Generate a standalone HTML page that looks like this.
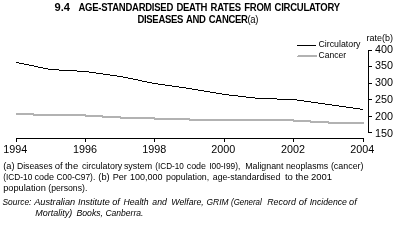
<!DOCTYPE html>
<html><head><meta charset="utf-8"><style>
html,body{margin:0;padding:0;background:#fff;width:397px;height:227px;overflow:hidden}
svg{position:absolute;left:0;top:0;display:block;will-change:transform}
text{font-family:"Liberation Sans",sans-serif;fill:#000;white-space:pre}
.b{font-weight:bold}
.n{font-weight:normal}
.i{font-style:italic}
</style></head><body>
<svg width="397" height="227" viewBox="0 0 397 227">
<g shape-rendering="crispEdges">
<rect x="16" y="138" width="348" height="1" fill="#000"/><rect x="16" y="138" width="1" height="4" fill="#000"/><rect x="85" y="138" width="1" height="4" fill="#000"/><rect x="154" y="138" width="1" height="4" fill="#000"/><rect x="224" y="138" width="1" height="4" fill="#000"/><rect x="293" y="138" width="1" height="4" fill="#000"/><rect x="363" y="138" width="1" height="4" fill="#000"/><rect x="368" y="50" width="1" height="83" fill="#000"/><rect x="368" y="50" width="4" height="1" fill="#000"/><rect x="368" y="66" width="4" height="1" fill="#000"/><rect x="368" y="83" width="4" height="1" fill="#000"/><rect x="368" y="99" width="4" height="1" fill="#000"/><rect x="368" y="116" width="4" height="1" fill="#000"/><rect x="368" y="132" width="4" height="1" fill="#000"/><rect x="297" y="45" width="19" height="1" fill="#000"/><rect x="298" y="55" width="19" height="1" fill="#b2b2b2"/><rect x="297" y="56" width="20" height="1" fill="#b2b2b2"/>
<rect x="16" y="62" width="3" height="1" fill="#000"/><rect x="19" y="63" width="5" height="1" fill="#000"/><rect x="24" y="64" width="5" height="1" fill="#000"/><rect x="29" y="65" width="5" height="1" fill="#000"/><rect x="34" y="66" width="4" height="1" fill="#000"/><rect x="38" y="67" width="5" height="1" fill="#000"/><rect x="43" y="68" width="5" height="1" fill="#000"/><rect x="48" y="69" width="11" height="1" fill="#000"/><rect x="59" y="70" width="18" height="1" fill="#000"/><rect x="77" y="71" width="12" height="1" fill="#000"/><rect x="89" y="72" width="7" height="1" fill="#000"/><rect x="96" y="73" width="7" height="1" fill="#000"/><rect x="103" y="74" width="7" height="1" fill="#000"/><rect x="110" y="75" width="7" height="1" fill="#000"/><rect x="117" y="76" width="6" height="1" fill="#000"/><rect x="123" y="77" width="5" height="1" fill="#000"/><rect x="128" y="78" width="5" height="1" fill="#000"/><rect x="133" y="79" width="5" height="1" fill="#000"/><rect x="138" y="80" width="4" height="1" fill="#000"/><rect x="142" y="81" width="5" height="1" fill="#000"/><rect x="147" y="82" width="5" height="1" fill="#000"/><rect x="152" y="83" width="6" height="1" fill="#000"/><rect x="158" y="84" width="7" height="1" fill="#000"/><rect x="165" y="85" width="7" height="1" fill="#000"/><rect x="172" y="86" width="7" height="1" fill="#000"/><rect x="179" y="87" width="7" height="1" fill="#000"/><rect x="186" y="88" width="6" height="1" fill="#000"/><rect x="192" y="89" width="6" height="1" fill="#000"/><rect x="198" y="90" width="6" height="1" fill="#000"/><rect x="204" y="91" width="6" height="1" fill="#000"/><rect x="210" y="92" width="6" height="1" fill="#000"/><rect x="216" y="93" width="6" height="1" fill="#000"/><rect x="222" y="94" width="7" height="1" fill="#000"/><rect x="229" y="95" width="9" height="1" fill="#000"/><rect x="238" y="96" width="8" height="1" fill="#000"/><rect x="246" y="97" width="9" height="1" fill="#000"/><rect x="255" y="98" width="22" height="1" fill="#000"/><rect x="277" y="99" width="20" height="1" fill="#000"/><rect x="297" y="100" width="7" height="1" fill="#000"/><rect x="304" y="101" width="7" height="1" fill="#000"/><rect x="311" y="102" width="7" height="1" fill="#000"/><rect x="318" y="103" width="7" height="1" fill="#000"/><rect x="325" y="104" width="7" height="1" fill="#000"/><rect x="332" y="105" width="7" height="1" fill="#000"/><rect x="339" y="106" width="7" height="1" fill="#000"/><rect x="346" y="107" width="7" height="1" fill="#000"/><rect x="353" y="108" width="7" height="1" fill="#000"/><rect x="360" y="109" width="3" height="1" fill="#000"/><rect x="16" y="113" width="18" height="1" fill="#b2b2b2"/><rect x="16" y="114" width="17" height="1" fill="#b2b2b2"/><rect x="33" y="114" width="53" height="1" fill="#b2b2b2"/><rect x="33" y="115" width="52" height="1" fill="#b2b2b2"/><rect x="85" y="115" width="18" height="1" fill="#b2b2b2"/><rect x="85" y="116" width="17" height="1" fill="#b2b2b2"/><rect x="102" y="116" width="19" height="1" fill="#b2b2b2"/><rect x="102" y="117" width="18" height="1" fill="#b2b2b2"/><rect x="120" y="117" width="35" height="1" fill="#b2b2b2"/><rect x="120" y="118" width="34" height="1" fill="#b2b2b2"/><rect x="154" y="118" width="36" height="1" fill="#b2b2b2"/><rect x="154" y="119" width="35" height="1" fill="#b2b2b2"/><rect x="189" y="119" width="105" height="1" fill="#b2b2b2"/><rect x="189" y="120" width="104" height="1" fill="#b2b2b2"/><rect x="293" y="120" width="18" height="1" fill="#b2b2b2"/><rect x="293" y="121" width="17" height="1" fill="#b2b2b2"/><rect x="310" y="121" width="19" height="1" fill="#b2b2b2"/><rect x="310" y="122" width="18" height="1" fill="#b2b2b2"/><rect x="328" y="122" width="36" height="1" fill="#b2b2b2"/><rect x="328" y="123" width="36" height="1" fill="#b2b2b2"/>
</g>
<text class="b tt" x="54.5" y="11.2" font-size="11.6" textLength="15.5" lengthAdjust="spacingAndGlyphs">9.4</text><text class="b tt" transform="scale(0.82,1)" x="95.73" y="11.2" font-size="11.6" word-spacing="1.2" textLength="318.90" lengthAdjust="spacing">AGE-STANDARDISED DEATH RATES FROM CIRCULATORY</text><text class="b tt" transform="scale(0.82,1)" x="167.68" y="22.8" font-size="11.6" word-spacing="1.2" textLength="147.56" lengthAdjust="spacing">DISEASES AND CANCER<tspan class="n">(a)</tspan></text><text class="n" x="318.5" y="46.8" font-size="9.5" textLength="42" lengthAdjust="spacingAndGlyphs">Circulatory</text><text class="n" x="318.5" y="57.8" font-size="9.5" textLength="27.5" lengthAdjust="spacingAndGlyphs">Cancer</text><text class="n" x="366.5" y="40.8" font-size="9.5" textLength="26.5" lengthAdjust="spacingAndGlyphs">rate(b)</text><text class="n d" x="375" y="53" font-size="11" textLength="18" lengthAdjust="spacingAndGlyphs">400</text><text class="n d" x="375" y="69" font-size="11" textLength="18" lengthAdjust="spacingAndGlyphs">350</text><text class="n d" x="375" y="86" font-size="11" textLength="18" lengthAdjust="spacingAndGlyphs">300</text><text class="n d" x="375" y="103" font-size="11" textLength="18" lengthAdjust="spacingAndGlyphs">250</text><text class="n d" x="375" y="120" font-size="11" textLength="18" lengthAdjust="spacingAndGlyphs">200</text><text class="n d" x="375" y="137" font-size="11" textLength="18" lengthAdjust="spacingAndGlyphs">150</text><text class="n d" x="3.3" y="153" font-size="11" textLength="24" lengthAdjust="spacingAndGlyphs">1994</text><text class="n d" x="73.1" y="153" font-size="11" textLength="24" lengthAdjust="spacingAndGlyphs">1996</text><text class="n d" x="142.3" y="153" font-size="11" textLength="24" lengthAdjust="spacingAndGlyphs">1998</text><text class="n d" x="211.3" y="153" font-size="11" textLength="24" lengthAdjust="spacingAndGlyphs">2000</text><text class="n d" x="281.1" y="153" font-size="11" textLength="24" lengthAdjust="spacingAndGlyphs">2002</text><text class="n d" x="350.3" y="153" font-size="11" textLength="24" lengthAdjust="spacingAndGlyphs">2004</text><text class="n ft" x="3.20" y="168.8" font-size="9.5" textLength="11.34" lengthAdjust="spacingAndGlyphs">(a)</text><text class="n ft" x="16.89" y="168.8" font-size="9.5" textLength="35.70" lengthAdjust="spacingAndGlyphs">Diseases</text><text class="n ft" x="54.82" y="168.8" font-size="9.5" textLength="7.94" lengthAdjust="spacingAndGlyphs">of</text><text class="n ft" x="64.96" y="168.8" font-size="9.5" textLength="13.22" lengthAdjust="spacingAndGlyphs">the</text><text class="n ft" x="81.88" y="168.8" font-size="9.5" textLength="40.44" lengthAdjust="spacingAndGlyphs">circulatory</text><text class="n ft" x="123.89" y="168.8" font-size="9.5" textLength="28.21" lengthAdjust="spacingAndGlyphs">system</text><text class="n ft" x="155.37" y="168.8" font-size="9.5" textLength="28.52" lengthAdjust="spacingAndGlyphs">(ICD-10</text><text class="n ft" x="186.67" y="168.8" font-size="9.5" textLength="19.41" lengthAdjust="spacingAndGlyphs">code</text><text class="n ft" x="209.24" y="168.8" font-size="9.5" textLength="31.07" lengthAdjust="spacingAndGlyphs">I00-I99),</text><text class="n ft" x="245.17" y="168.8" font-size="9.5" textLength="38.32" lengthAdjust="spacingAndGlyphs">Malignant</text><text class="n ft" x="285.89" y="168.8" font-size="9.5" textLength="42.39" lengthAdjust="spacingAndGlyphs">neoplasms</text><text class="n ft" x="330.92" y="168.8" font-size="9.5" textLength="32.61" lengthAdjust="spacingAndGlyphs">(cancer)</text><text class="n ft" x="3.26" y="180.2" font-size="9.5" textLength="29.01" lengthAdjust="spacingAndGlyphs">(ICD-10</text><text class="n ft" x="34.48" y="180.2" font-size="9.5" textLength="19.58" lengthAdjust="spacingAndGlyphs">code</text><text class="n ft" x="56.53" y="180.2" font-size="9.5" textLength="38.71" lengthAdjust="spacingAndGlyphs">C00-C97).</text><text class="n ft" x="98.30" y="180.2" font-size="9.5" textLength="11.41" lengthAdjust="spacingAndGlyphs">(b)</text><text class="n ft" x="112.65" y="180.2" font-size="9.5" textLength="14.20" lengthAdjust="spacingAndGlyphs">Per</text><text class="n ft" x="129.94" y="180.2" font-size="9.5" textLength="32.58" lengthAdjust="spacingAndGlyphs">100,000</text><text class="n ft" x="166.01" y="180.2" font-size="9.5" textLength="43.21" lengthAdjust="spacingAndGlyphs">population,</text><text class="n ft" x="212.77" y="180.2" font-size="9.5" textLength="67.58" lengthAdjust="spacingAndGlyphs">age-standardised</text><text class="n ft" x="284.92" y="180.2" font-size="9.5" textLength="23.77" lengthAdjust="spacingAndGlyphs">to the</text><text class="n ft" x="311.00" y="180.2" font-size="9.5" textLength="21.13" lengthAdjust="spacingAndGlyphs">2001</text><text class="n ft" x="3.18" y="191.1" font-size="9.5" textLength="42.68" lengthAdjust="spacingAndGlyphs">population</text><text class="n ft" x="48.24" y="191.1" font-size="9.5" textLength="39.07" lengthAdjust="spacingAndGlyphs">(persons).</text><text class="i ft" x="2.54" y="204.8" font-size="9.5" textLength="28.83" lengthAdjust="spacingAndGlyphs">Source:</text><text class="i ft" x="34.15" y="204.8" font-size="9.5" textLength="41.00" lengthAdjust="spacingAndGlyphs">Australian</text><text class="i ft" x="77.92" y="204.8" font-size="9.5" textLength="31.82" lengthAdjust="spacingAndGlyphs">Institute</text><text class="i ft" x="112.22" y="204.8" font-size="9.5" textLength="7.64" lengthAdjust="spacingAndGlyphs">of</text><text class="i ft" x="123.52" y="204.8" font-size="9.5" textLength="25.10" lengthAdjust="spacingAndGlyphs">Health</text><text class="i ft" x="152.33" y="204.8" font-size="9.5" textLength="14.55" lengthAdjust="spacingAndGlyphs">and</text><text class="i ft" x="171.28" y="204.8" font-size="9.5" textLength="32.46" lengthAdjust="spacingAndGlyphs">Welfare,</text><text class="i ft" x="206.54" y="204.8" font-size="9.5" textLength="21.98" lengthAdjust="spacingAndGlyphs">GRIM</text><text class="i ft" x="231.09" y="204.8" font-size="9.5" textLength="30.66" lengthAdjust="spacingAndGlyphs">(General</text><text class="i ft" x="267.22" y="204.8" font-size="9.5" textLength="28.59" lengthAdjust="spacingAndGlyphs">Record</text><text class="i ft" x="298.67" y="204.8" font-size="9.5" textLength="7.93" lengthAdjust="spacingAndGlyphs">of</text><text class="i ft" x="309.68" y="204.8" font-size="9.5" textLength="37.24" lengthAdjust="spacingAndGlyphs">Incidence</text><text class="i ft" x="349.12" y="204.8" font-size="9.5" textLength="7.64" lengthAdjust="spacingAndGlyphs">of</text><text class="i ft" x="35.32" y="215.8" font-size="9.5" textLength="36.84" lengthAdjust="spacingAndGlyphs">Mortality)</text><text class="i ft" x="76.52" y="215.8" font-size="9.5" textLength="26.49" lengthAdjust="spacingAndGlyphs">Books,</text><text class="i ft" x="105.39" y="215.8" font-size="9.5" textLength="37.97" lengthAdjust="spacingAndGlyphs">Canberra.</text>
</svg>
</body></html>
